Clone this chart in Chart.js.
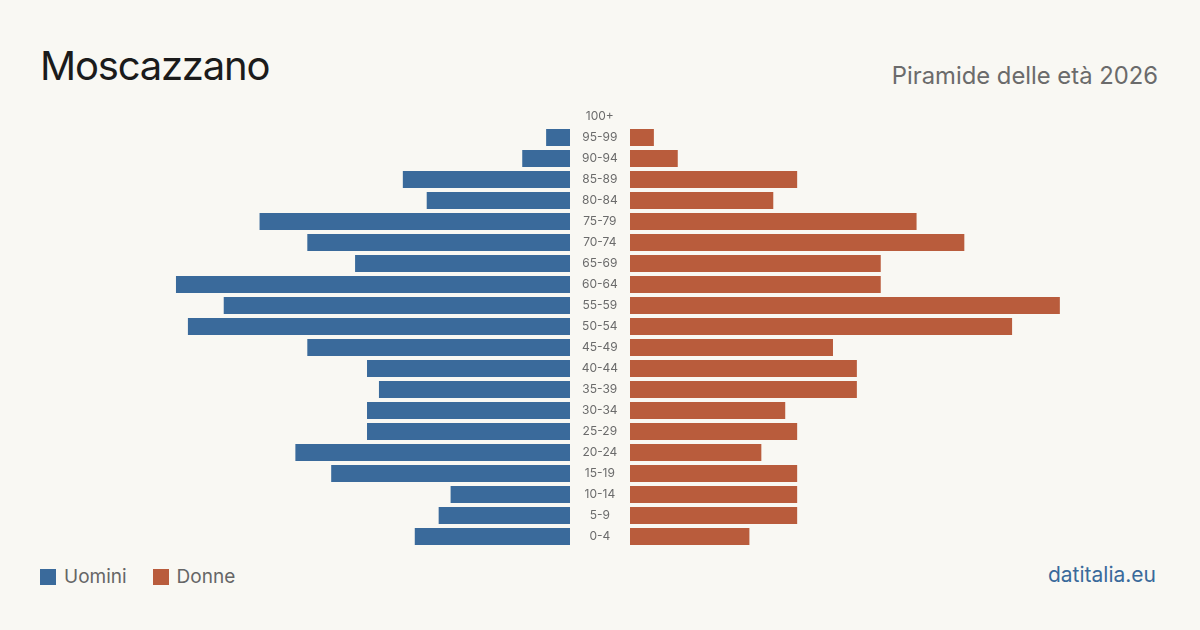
<!DOCTYPE html>
<html>
<head>
<meta charset="utf-8">
<script src="https://cdn.jsdelivr.net/npm/chart.js@4"></script>
<style>
  body { margin: 0; background: #f9f8f3; font-family: Inter, "Liberation Sans", sans-serif; }
  .pagina { position: relative; width: 1200px; height: 630px; overflow: hidden; }
  .titolo { position: absolute; left: 40px; top: 41px; font-size: 40px; color: #1b1b1b; letter-spacing: -1.2px; }
  .sottotitolo { position: absolute; right: 42px; top: 61px; font-size: 23.8px; color: #6b6b6b; }
  .legenda { position: absolute; left: 40px; top: 565px; font-size: 19px; color: #666; display: flex; align-items: center; }
  .legenda span.q { width: 16px; height: 16px; display: inline-block; margin-right: 8px; }
  .legenda span.t { margin-right: 26px; }
  .fonte { position: absolute; right: 44px; top: 562px; font-size: 21px; color: #3a6a9b; }
  #sx { position: absolute; left: 90px; top: 106px; }
  #dx { position: absolute; left: 570px; top: 106px; }
</style>
</head>
<body>
<div class="pagina">
  <div class="titolo">Moscazzano</div>
  <div class="sottotitolo">Piramide delle età 2026</div>
  <canvas id="sx" width="480" height="441"></canvas>
  <canvas id="dx" width="540" height="441"></canvas>
  <div class="legenda">
    <span class="q" style="background:#3a6a9b"></span><span class="t">Uomini</span>
    <span class="q" style="background:#b95c3c"></span><span class="t">Donne</span>
  </div>
  <div class="fonte">datitalia.eu</div>
</div>
<script>
const fasce = ["100+", "95-99", "90-94", "85-89", "80-84", "75-79", "70-74", "65-69", "60-64", "55-59",
  "50-54", "45-49", "40-44", "35-39", "30-34", "25-29", "20-24", "15-19", "10-14", "5-9", "0-4"];
const uomini = [0, 2, 4, 14, 12, 26, 22, 18, 33, 29, 32, 22, 17, 16, 17, 17, 23, 20, 10, 11, 13];
const donne = [0, 2, 4, 14, 12, 24, 28, 21, 21, 36, 32, 17, 19, 19, 13, 14, 11, 14, 14, 14, 10];
const massimo = 40.2;

const blu = "#3a6a9b";
const arancio = "#b95c3c";

function opzioni(rovescia, mostraEta) {
  const assey = {
    display: mostraEta,
    grid: { display: false, drawTicks: false },
    border: { display: false },
    ticks: {
      crossAlign: 'center',
      padding: 12,
      color: '#6b6b6b',
      font: { family: 'Inter, "Liberation Sans", sans-serif', size: 12 }
    }
  };
  if (mostraEta) {
    // colonna centrale delle età larga 60px, senza margini sopra/sotto
    assey.afterFit = function (scale) {
      scale.width = 60;
      scale.paddingTop = 0;
      scale.paddingBottom = 0;
    };
  }
  return {
    indexAxis: 'y',
    responsive: false,
    animation: false,
    layout: { padding: 0 },
    plugins: { legend: { display: false }, tooltip: { enabled: false } },
    scales: {
      x: { display: false, min: 0, max: massimo, reverse: rovescia },
      y: assey
    }
  };
}

new Chart(document.getElementById('sx'), {
  type: 'bar',
  data: {
    labels: fasce,
    datasets: [{ label: 'Uomini', data: uomini, backgroundColor: blu, barPercentage: 0.81, categoryPercentage: 1 }]
  },
  options: opzioni(true, false)
});

new Chart(document.getElementById('dx'), {
  type: 'bar',
  data: {
    labels: fasce,
    datasets: [{ label: 'Donne', data: donne, backgroundColor: arancio, barPercentage: 0.81, categoryPercentage: 1 }]
  },
  options: opzioni(false, true)
});
</script>
</body>
</html>
